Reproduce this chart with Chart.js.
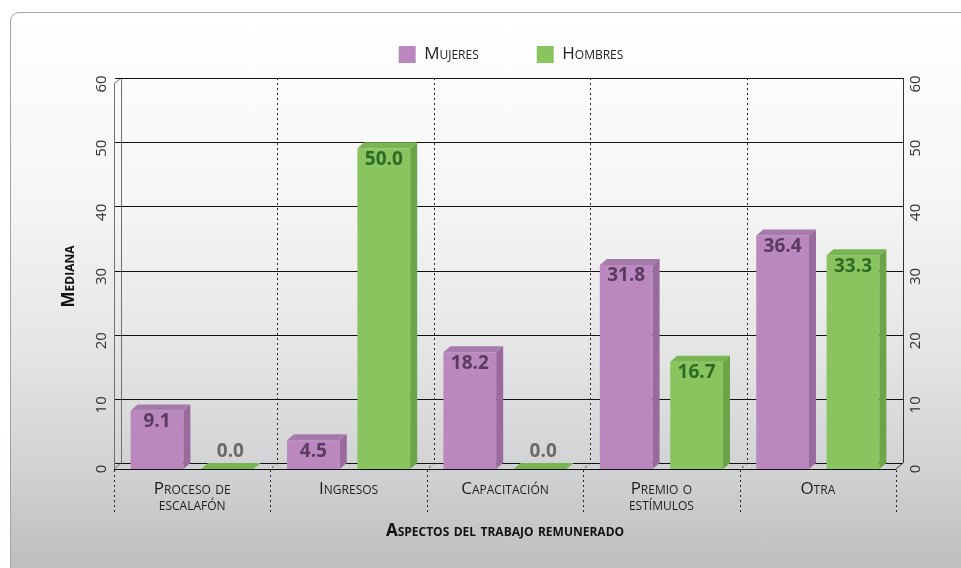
<!DOCTYPE html>
<html>
<head>
<meta charset="utf-8">
<script src="https://cdn.jsdelivr.net/npm/chart.js@4.4.1/dist/chart.umd.min.js"></script>
<style>
  html, body { margin:0; padding:0; background:#ffffff; }
  #frame { position:absolute; left:10px; top:12px; width:1000px; height:600px;
    border:1px solid #a3a3a3; border-radius:9px;
    background:linear-gradient(to bottom, #ffffff 0px, #f6f6f6 180px, #e6e6e7 330px, #d2d3d4 450px, #bdbec0 556px); }
  #wrap { position:absolute; left:0; top:0; width:961px; height:568px; }
</style>
</head>
<body>
<div id="frame"></div>
<div id="wrap"><canvas id="c" width="961" height="568"></canvas></div>
<script>
// ---- data ----
const categories = [["Proceso de", "escalafón"], "Ingresos", "Capacitación", ["Premio o", "estímulos"], "Otra"];
const seriesLabels = ["Mujeres", "Hombres"];
const mujeresValues = [9.1, 4.5, 18.2, 31.8, 36.4];
const hombresValues = [0.0, 50.0, 0.0, 16.7, 33.3];
const yAxisMin = 0;
const yAxisMax = 60;
const yAxisStep = 10;
const xAxisTitle = "Aspectos del trabajo remunerado";
const yAxisTitle = "Mediana";

// ---- styles ----
const FONT = "'Open Sans', 'DejaVu Sans', sans-serif";
const DX = 7, DY = 6;
const frontColors = ['#ba88bf', '#89c45f'];
const topColors = ['#a77aac', '#79b553'];
const sideColors = ['#9a6a9f', '#6ca448'];
const labelColors = ['#5b3a5f', '#2e6a25'];
const zeroLabelColor = '#6a6a6a';
const LEGEND_HEIGHT = 96;

function line(ctx, x1, y1, x2, y2) {
  ctx.beginPath(); ctx.moveTo(x1, y1); ctx.lineTo(x2, y2); ctx.stroke();
}

const legendSizePlugin = {
  id: 'legendSize',
  beforeLayout(chart) {
    const lg = chart.legend;
    if (lg && !lg._fixedFit) {
      const orig = lg.fit.bind(lg);
      lg.fit = function () { orig(); this.height = LEGEND_HEIGHT; };
      lg._fixedFit = true;
    }
  }
};

const wallPlugin = {
  id: 'wall',
  beforeDatasetsDraw(chart) {
    const { ctx, chartArea: a, scales } = chart;
    const x = scales.x, y = scales.y;
    const yTop = y.getPixelForValue(yAxisMax), yBot = y.getPixelForValue(yAxisMin);
    ctx.save();
    ctx.lineWidth = 1;
    // left wall
    ctx.strokeStyle = '#707070';
    line(ctx, a.left + 0.5, yTop, a.left + 0.5, yBot);
    line(ctx, a.left + DX + 0.5, yTop - DY, a.left + DX + 0.5, yBot - DY);
    line(ctx, a.left, yTop, a.left + DX, yTop - DY);
    line(ctx, a.left, yBot, a.left + DX, yBot - DY);
    // back wall grid
    ctx.strokeStyle = '#111111';
    y.ticks.forEach(t => {
      const py = Math.round(y.getPixelForValue(t.value) - DY) + 0.5;
      line(ctx, a.left + 1, py, a.right + DX, py);
    });
    // right edge
    ctx.strokeStyle = '#333333';
    line(ctx, a.right + DX + 0.5, yTop - DY, a.right + DX + 0.5, yBot - DY);
    line(ctx, a.right + DX, yBot - DY, a.right, yBot);
    // floor front
    ctx.strokeStyle = '#111111';
    line(ctx, a.left, Math.round(yBot) + 0.5, a.right, Math.round(yBot) + 0.5);
    // category separators
    const n = categories.length;
    const cw = (x.getPixelForValue(n - 1) - x.getPixelForValue(0)) / (n - 1);
    ctx.setLineDash([2, 3]);
    ctx.strokeStyle = '#222222';
    for (let i = 0; i <= n; i++) {
      const bx = Math.round(x.getPixelForValue(0) - cw / 2 + i * cw) + 0.5;
      if (i > 0 && i < n) {
        line(ctx, bx + DX, yTop - DY, bx + DX, yBot - DY);
        line(ctx, bx + DX, yBot - DY, bx, yBot);
      }
      line(ctx, bx, yBot + 1, bx, yBot + 43);
    }
    ctx.restore();
  },
  afterDatasetsDraw(chart) {
    const ctx = chart.ctx;
    ctx.save();
    chart.data.datasets.forEach((ds, di) => {
      const meta = chart.getDatasetMeta(di);
      meta.data.forEach((el, i) => {
        const p = el.getProps(['x', 'y', 'base', 'width'], true);
        const x0 = p.x - p.width / 2, x1 = p.x + p.width / 2;
        const top = p.y, base = p.base;
        ctx.fillStyle = topColors[di];
        ctx.beginPath();
        ctx.moveTo(x0, top); ctx.lineTo(x0 + DX, top - DY);
        ctx.lineTo(x1 + DX, top - DY); ctx.lineTo(x1, top); ctx.closePath(); ctx.fill();
        if (base - top > 0.5) {
          ctx.fillStyle = sideColors[di];
          ctx.beginPath();
          ctx.moveTo(x1, top); ctx.lineTo(x1 + DX, top - DY);
          ctx.lineTo(x1 + DX, base - DY); ctx.lineTo(x1, base); ctx.closePath(); ctx.fill();
        }
        const v = ds.data[i];
        ctx.font = "bold 19px " + FONT;
        ctx.textAlign = 'center';
        ctx.textBaseline = 'middle';
        if (v === 0) {
          ctx.fillStyle = zeroLabelColor;
          ctx.fillText(v.toFixed(1), p.x + 3, top - 17);
        } else {
          ctx.fillStyle = labelColors[di];
          ctx.fillText(v.toFixed(1), p.x, top + 11);
        }
      });
    });
    ctx.restore();
  }
};

const tickFont = { family: FONT, size: 15 };

new Chart(document.getElementById('c'), {
  type: 'bar',
  data: {
    labels: categories,
    datasets: [
      { label: seriesLabels[0], data: mujeresValues, backgroundColor: frontColors[0], borderWidth: 0,
        categoryPercentage: 0.9, barPercentage: 0.75 },
      { label: seriesLabels[1], data: hombresValues, backgroundColor: frontColors[1], borderWidth: 0,
        categoryPercentage: 0.9, barPercentage: 0.75 }
    ]
  },
  options: {
    responsive: false,
    devicePixelRatio: 1,
    animation: false,
    layout: { padding: { left: 61, right: 0, top: -12, bottom: 20 } },
    plugins: {
      tooltip: { enabled: false },
      legend: {
        position: 'top',
        labels: {
          boxWidth: 17, boxHeight: 17, padding: 58,
          color: '#222222',
          font: { family: FONT, size: 17, weight: 'small-caps' }
        }
      }
    },
    scales: {
      x: {
        afterFit(s) { s.height = 79; },
        grid: { display: false },
        border: { display: false },
        ticks: { color: '#1e1e1e', padding: 5, maxRotation: 0, autoSkip: false,
          font: { family: FONT, size: 17, weight: 'small-caps', lineHeight: 0.9 } },
        title: { display: true, text: xAxisTitle, color: '#111111',
          padding: { top: 0, bottom: 8 },
          font: { family: FONT, size: 17, weight: 'small-caps bold', lineHeight: 1.0 } }
      },
      y: {
        position: 'left',
        min: yAxisMin, max: yAxisMax,
        afterFit(s) { s.width = 53; },
        grid: { display: false },
        border: { display: false },
        ticks: { stepSize: yAxisStep, minRotation: 90, maxRotation: 90, crossAlign: 'center',
          padding: -4, color: '#333333', font: tickFont },
        title: { display: true, text: yAxisTitle, color: '#111111', padding: 0,
          font: { family: FONT, size: 17, weight: 'small-caps bold', lineHeight: 1.0 } }
      },
      y2: {
        type: 'linear',
        position: 'right',
        min: yAxisMin, max: yAxisMax,
        afterFit(s) { s.width = 65; },
        grid: { display: false },
        border: { display: false },
        ticks: { stepSize: yAxisStep, minRotation: 90, maxRotation: 90, crossAlign: 'center',
          padding: 3, color: '#333333', font: tickFont }
      }
    }
  },
  plugins: [legendSizePlugin, wallPlugin]
});
</script>
</body>
</html>
